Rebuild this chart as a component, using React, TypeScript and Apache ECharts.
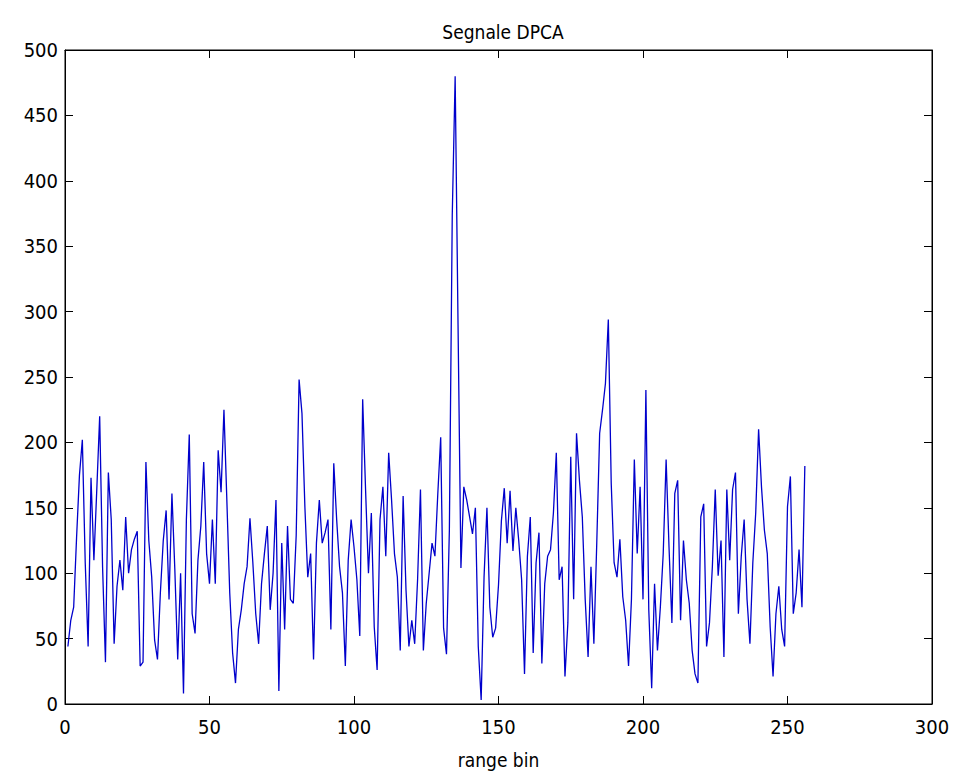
import React, { useEffect, useRef } from "react";
import * as echarts from "echarts";

const titleText = "Segnale DPCA";
const xAxisName = "range bin";
const xTicks = [0, 300, 50]; // min, max, interval
const yTicks = [0, 500, 50];

// DPCA signal amplitude per range bin (bins 1..256)
const signalA = [44, 64, 74, 127, 175, 202, 108, 44, 173, 110, 164, 220, 105, 32, 177, 141, 46, 90, 110, 87, 143, 100, 118, 126, 132, 29, 32, 185, 125, 97, 49, 34, 85, 125, 148, 80, 161, 103, 34, 100, 8, 141, 206, 69, 54, 110, 136, 185, 115, 92];
const signalB = [141, 92, 194, 162, 225, 156, 85, 39, 16, 57, 72, 92, 105, 142, 108, 69, 46, 92, 115, 136, 72, 100, 156, 10, 123, 57, 136, 80, 77, 129, 248, 222, 151, 97, 115, 34, 123, 156, 123, 131, 141, 57, 184, 141, 105, 85, 29, 110, 141, 120];
const signalC = [95, 52, 233, 164, 100, 146, 59, 26, 141, 166, 113, 192, 156, 115, 97, 41, 159, 87, 44, 64, 46, 95, 164, 41, 77, 100, 123, 113, 161, 204, 58, 38, 133, 374, 480, 290, 104, 166, 156, 143, 130, 150, 44, 3, 97, 150, 74, 51, 58, 91];
const signalD = [140, 165, 123, 163, 117, 150, 125, 95, 23, 113, 143, 39, 108, 131, 31, 92, 113, 118, 146, 192, 95, 105, 21, 62, 189, 80, 207, 171, 143, 80, 36, 105, 46, 123, 207, 225, 245, 294, 169, 108, 97, 126, 82, 64, 29, 80, 187, 115, 166, 80];
const signalE = [240, 72, 12, 92, 41, 74, 115, 187, 120, 62, 161, 171, 64, 125, 95, 77, 41, 23, 16, 143, 153, 44, 62, 105, 164, 98, 125, 36, 164, 110, 164, 177, 69, 113, 141, 80, 46, 108, 146, 210, 166, 133, 115, 59, 21, 69, 90, 57, 44, 151];
const signalF = [174, 69, 85, 118, 74, 182];

const signal = [...signalA, ...signalB, ...signalC, ...signalD, ...signalE, ...signalF];

const FONT = "'Liberation Sans Narrow', 'Arial Narrow', 'DejaVu Sans Condensed', 'Liberation Sans', sans-serif";

function makeAxis(kind: "x" | "y", position: string, showLabels: boolean, ticks: number[]) {
  return {
    type: "value",
    min: ticks[0],
    max: ticks[1],
    interval: ticks[2],
    position,
    axisLine: { show: true, onZero: false, lineStyle: { color: "#000", width: 1 } },
    axisTick: { show: true, inside: true, length: 8, lineStyle: { color: "#000", width: 1 } },
    axisLabel: showLabels
      ? { show: true, color: "#000", fontFamily: FONT, fontSize: 20, margin: kind === "x" ? 13 : 7 }
      : { show: false },
    splitLine: { show: false },
  } as any;
}

export default function App() {
  const ref = useRef<HTMLDivElement>(null);
  useEffect(() => {
    document.body.style.margin = "0";
    document.body.style.background = "#ffffff";
    const chart = echarts.init(ref.current!, null, { renderer: "svg" });
    const xBottom = makeAxis("x", "bottom", true, xTicks);
    xBottom.name = xAxisName;
    xBottom.nameLocation = "middle";
    xBottom.nameGap = 46;
    xBottom.nameTextStyle = { color: "#000", fontFamily: FONT, fontSize: 19 };
    chart.setOption({
      animation: false,
      backgroundColor: "#ffffff",
      title: {
        text: titleText,
        left: 498,
        top: 17,
        textAlign: "center",
        textStyle: { color: "#000", fontFamily: FONT, fontSize: 19, fontWeight: "normal" },
      },
      grid: {
        left: 65,
        right: 30,
        top: 50,
        bottom: 77,
        containLabel: false,
        show: true,
        borderColor: "#000",
        borderWidth: 1,
        backgroundColor: "transparent",
      },
      xAxis: [xBottom, makeAxis("x", "top", false, xTicks)],
      yAxis: [makeAxis("y", "left", true, yTicks), makeAxis("y", "right", false, yTicks)],
      series: [
        {
          type: "line",
          data: signal.map((v, i) => [i + 1, v]),
          showSymbol: false,
          symbol: "none",
          lineStyle: { color: "#0000cc", width: 1.3 },
          xAxisIndex: 0,
          yAxisIndex: 0,
        },
        {
          type: "line",
          data: [],
          xAxisIndex: 1,
          yAxisIndex: 1,
        },
      ],
    });
    return () => chart.dispose();
  }, []);
  return <div ref={ref} style={{ width: 962, height: 781 }} />;
}
